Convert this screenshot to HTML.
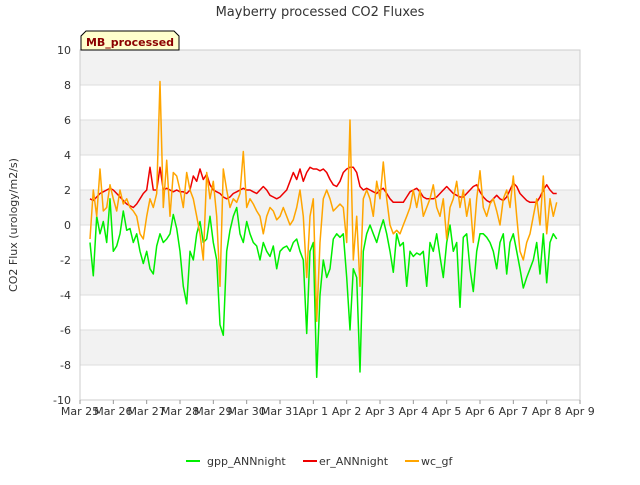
<!DOCTYPE html>
<html><head><meta charset="utf-8"><style>
body{margin:0;background:#fff;font-family:"Liberation Sans","DejaVu Sans",sans-serif}
svg text{font-family:"DejaVu Sans","Liberation Sans",sans-serif}
</style></head><body>
<svg id="c" width="640" height="480" viewBox="0 0 640 480">
<text x="320" y="16" text-anchor="middle" font-size="13" fill="#333">Mayberry processed CO2 Fluxes</text>
<g id="bands"></g><g id="grid"></g>
<rect x="80" y="50" width="500" height="350" fill="none" stroke="#ccc"/>
<g id="series"></g><g id="axes"></g>
<text transform="translate(17,225) rotate(-90)" text-anchor="middle" font-size="11" fill="#333">CO2 Flux (urology/m2/s)</text>
<g>
<path d="M81,50 L81,36 L86,31 L174,31 L179,36 L179,50 Z" fill="#ffffcc" stroke="#000"/>
<text x="130" y="46" text-anchor="middle" font-size="11" font-weight="bold" fill="#8b0000">MB_processed</text>
</g>
<g>
<g><line x1="186" y1="461" x2="200" y2="461" stroke="#00ee00" stroke-width="2"/><text x="207" y="465" font-size="11" fill="#333">gpp_ANNnight</text></g>
<g><line x1="303" y1="461" x2="317" y2="461" stroke="#ee0000" stroke-width="2"/><text x="319" y="465" font-size="11" fill="#333">er_ANNnight</text></g>
<g><line x1="405" y1="461" x2="419" y2="461" stroke="#ffa500" stroke-width="2"/><text x="421" y="465" font-size="11" fill="#333">wc_gf</text></g>
</g>
</svg>
<script>
const xTickLabels=["Mar 25","Mar 26","Mar 27","Mar 28","Mar 29","Mar 30","Mar 31","Apr 1","Apr 2","Apr 3","Apr 4","Apr 5","Apr 6","Apr 7","Apr 8","Apr 9"];
const yTicks=[-10,-8,-6,-4,-2,0,2,4,6,8,10];
const tStart=0.3, tStep=0.1;
const er=[1.5,1.4,1.6,1.8,1.9,2.0,2.1,2.0,
1.8,1.6,1.4,1.2,1.1,1.0,1.2,1.5,1.8,2.0,
3.3,2.0,2.0,3.3,2.0,2.1,2.0,1.9,2.0,1.9,
1.9,1.8,2.0,2.8,2.5,3.2,2.6,2.9,2.3,2.0,
1.9,1.8,1.6,1.5,1.6,1.8,1.9,2.0,2.1,2.0,
2.0,1.9,1.8,2.0,2.2,2.0,1.7,1.6,1.5,1.6,
1.8,2.0,2.5,3.0,2.6,3.2,2.5,3.0,3.3,3.2,
3.2,3.1,3.2,3.0,2.6,2.3,2.2,2.5,3.0,3.2,
3.3,3.3,3.0,2.2,2.0,2.1,2.0,1.9,1.8,2.0,
2.1,1.8,1.5,1.3,1.3,1.3,1.3,1.6,1.9,2.0,
2.1,1.9,1.6,1.5,1.5,1.5,1.6,1.8,2.0,2.2,
2.0,1.8,1.7,1.6,1.6,1.8,2.0,2.2,2.3,1.9,
1.6,1.4,1.3,1.5,1.7,1.5,1.4,1.6,2.0,2.4,
2.2,1.8,1.6,1.4,1.3,1.3,1.3,1.6,2.0,2.3,
2.0,1.8,1.8];
const gpp=[-1,-2.9,0.5,-0.5,0.2,-1,1.5,-1.5,
-1.2,-0.5,0.8,-0.3,-0.2,-1.0,-0.5,-1.5,-2.2,-1.5,
-2.5,-2.8,-1.2,-0.5,-1.0,-0.8,-0.5,0.6,-0.2,-1.5,
-3.5,-4.5,-1.5,-2.0,-0.5,0.2,-1.0,-0.8,0.5,-1.0,
-2.0,-5.7,-6.3,-1.5,-0.3,0.5,1.0,-0.5,-1.0,0.2,
-0.5,-1.0,-1.2,-2.0,-1.0,-1.5,-1.8,-1.2,-2.5,-1.5,
-1.3,-1.2,-1.5,-1.0,-0.8,-1.5,-2.0,-6.2,-1.5,-1.0,
-8.7,-4.0,-2.0,-3.0,-2.5,-0.8,-0.5,-0.7,-0.5,-3.0,
-6.0,-2.5,-3.0,-8.4,-1.5,-0.5,0.0,-0.5,-1.0,-0.3,
0.3,-0.5,-1.5,-2.7,-0.5,-1.2,-1.0,-3.5,-1.5,-1.8,
-1.6,-1.7,-1.5,-3.5,-1.0,-1.5,-0.5,-1.8,-3.0,-1.0,
0.0,-1.5,-1.0,-4.7,-0.7,-0.5,-2.5,-3.8,-1.5,-0.5,
-0.5,-0.7,-1.0,-1.5,-2.5,-1.0,-0.5,-2.8,-1.0,-0.5,
-1.5,-2.5,-3.6,-3.0,-2.5,-2.0,-1.0,-2.8,-0.5,-3.3,
-1.0,-0.5,-0.8];
const wc=[-0.8,2.0,0.5,3.2,0.8,1.0,2.3,1.5,
0.8,2.0,1.2,1.5,1.0,0.8,0.5,-0.5,-0.8,0.5,
1.5,1.0,1.8,8.2,1.0,3.7,0.5,3.0,2.8,2.0,
1.0,3.0,2.0,1.5,0.5,-0.5,-2.0,3.0,1.5,2.5,
0.5,-3.5,3.2,2.0,1.0,1.5,1.3,1.8,4.2,1.0,
1.5,1.2,0.8,0.5,-0.5,0.5,1.0,0.8,0.3,0.5,
1.0,0.5,0.0,0.3,1.0,2.0,0.5,-3.0,0.5,1.5,
-5.5,-1.0,1.5,2.0,1.5,0.8,1.0,1.2,1.0,-1.0,
6.0,-2.0,0.5,-3.5,1.5,2.0,1.5,0.5,2.5,1.5,
3.6,1.5,0.0,-0.5,-0.3,-0.5,0.0,0.5,1.0,2.0,
1.0,2.0,0.5,1.0,1.5,2.3,1.0,0.5,1.5,-0.8,
1.0,1.5,2.5,1.0,2.0,0.5,1.5,-1.0,1.5,3.1,
1.0,0.5,1.2,1.5,0.8,0.0,1.5,2.0,1.0,2.8,
0.5,-1.5,-2.0,-1.0,-0.5,0.5,1.5,0.0,2.8,-0.5,
1.5,0.5,1.3];
const NS="http://www.w3.org/2000/svg";
const X=d=>80+d*500/15, Y=v=>225-v*17.5;
function mk(tag,parent,attrs){const e=document.createElementNS(NS,tag);for(const k in attrs)e.setAttribute(k,attrs[k]);document.getElementById(parent).appendChild(e);return e;}
for(let v=-10;v<10;v+=2){
  if(((v+10)/2)%2===1){const r=mk('rect','bands',{x:80,y:Y(v+2),width:500,height:Y(v)-Y(v+2),fill:'#f2f2f2'});
  
  }
}
yTicks.forEach(v=>{
  const l=mk('line','grid',{x1:80,x2:580,y1:Y(v),y2:Y(v),stroke:'#ddd'});
  
  
  const t=mk('text','axes',{x:71,y:Y(v)+4,'text-anchor':'end','font-size':11,fill:'#333'});t.textContent=v;
  
  
});
xTickLabels.forEach((s,i)=>{
  const tk=mk('line','axes',{x1:X(i),x2:X(i),y1:400,y2:404,stroke:'#999'});
  
  
  const t=mk('text','axes',{x:X(i),y:415,'text-anchor':'middle','font-size':11,fill:'#333'});t.textContent=s;
  
  
});
[[gpp,'#00ee00','gpp-line'],[er,'#ee0000','er-line'],[wc,'#ffa500','wc-line']].forEach(([arr,c,n])=>{
  const pts=arr.map((v,i)=>X(tStart+i*tStep).toFixed(1)+','+Y(v).toFixed(1)).join(' ');
  const p=mk('polyline','series',{points:pts,fill:'none',stroke:c,'stroke-width':1.5,'stroke-linejoin':'round'});
  
  
});
</script>
</body></html>
